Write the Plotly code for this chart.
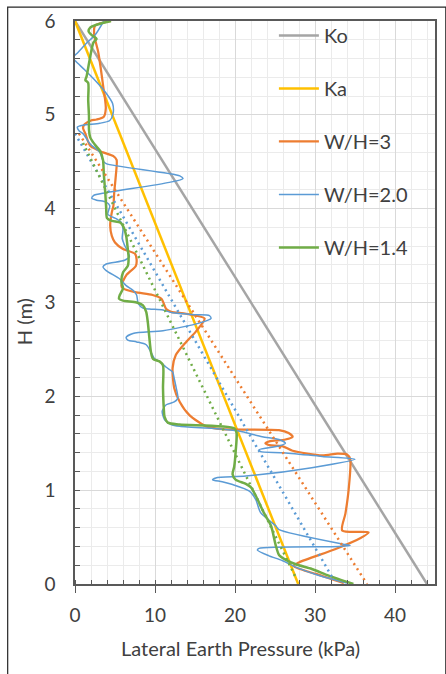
import plotly.graph_objects as go

# Reference earth-pressure lines (kPa vs depth H in m)
ko_x = [0.0, 44.0]
ko_h = [6.0, 0.0]
ka_x = [0.0, 27.9]
ka_h = [6.0, 0.0]

# Measured lateral earth pressure profiles
wh3_x = [4.5, 2.5, 2.4, 2.9, 3.5, 3.85, 3.6, 2.7, 2.0, 1.2, 1.0, 1.3, 1.9, 3.5, 4.8, 5.2, 5.1, 4.9,
         4.8, 4.6, 4.4, 4.6, 5.0, 6.0, 7.5, 7.7, 7.6, 6.4, 5.8, 6.0, 7.5, 9.7, 10.8, 11.4, 12.0,
         13.9, 16.2, 15.1, 13.9, 12.6, 12.2, 12.4, 13.1, 14.3, 16.4, 18.4, 25.5, 26.7, 27.2, 26.3,
         24.3, 23.8, 24.3, 25.9, 27.2, 30.9, 32.8, 34.0, 34.4, 34.2, 33.8, 33.4, 36.7, 35.7, 32.5,
         28.0, 27.3, 30.0, 33.6]
wh3_h = [6.0, 5.95, 5.85, 5.67, 5.32, 5.07, 4.98, 4.95, 4.94, 4.90, 4.86, 4.80, 4.67, 4.60, 4.56,
         4.52, 4.35, 4.17, 4.03, 3.96, 3.82, 3.71, 3.64, 3.57, 3.52, 3.46, 3.39, 3.29, 3.18, 3.15,
         3.11, 3.08, 3.04, 2.93, 2.90, 2.88, 2.83, 2.69, 2.58, 2.44, 2.30, 2.09, 1.94, 1.80, 1.68,
         1.65, 1.64, 1.61, 1.57, 1.54, 1.52, 1.50, 1.48, 1.47, 1.42, 1.37, 1.39, 1.38, 1.33, 1.00,
         0.75, 0.57, 0.55, 0.49, 0.37, 0.23, 0.19, 0.11, 0.01]

wh20_x = [3.6, 2.5, 1.4, 0.2, -0.3, 0.1, 1.2, 2.7, 3.9, 4.7, 4.75, 4.35, 3.1, 1.0, 0.3, 0.5, 1.0,
          1.9, 3.1, 3.5, 3.9, 13.1, 13.5, 11.8, 3.9, 2.3, 2.1, 2.7, 3.9, 4.35, 4.1, 5.2, 5.8, 6.0,
          5.9, 6.2, 6.8, 6.2, 3.9, 3.5, 3.9, 5.6, 6.4, 7.25, 7.7, 7.9, 8.5, 9.3, 11.0, 12.2, 15.1,
          16.8, 17.0, 15.5, 11.0, 7.25, 6.4, 6.6, 7.7, 8.9, 9.5, 9.95, 10.6, 11.4, 12.2, 12.4,
          12.65, 12.85, 12.4, 11.4, 10.9, 11.2, 12.0, 13.1, 18.4, 20.5, 23.4, 25.5, 26.3, 25.5,
          23.0, 23.2, 25.9, 30.9, 35.0, 29.6, 21.35, 17.6, 17.2, 18.4, 19.7, 21.8, 22.6, 23.2,
          25.1, 25.5, 33.8, 34.4, 33.0, 23.0, 22.8, 24.25, 25.9, 27.6, 30.5, 34.0]
wh20_h = [6.0, 5.85, 5.76, 5.65, 5.61, 5.57, 5.48, 5.35, 5.23, 5.12, 5.01, 4.94, 4.91, 4.89, 4.87,
          4.83, 4.80, 4.69, 4.60, 4.51, 4.48, 4.35, 4.32, 4.28, 4.17, 4.14, 4.11, 4.09, 4.07, 4.03,
          3.94, 3.89, 3.85, 3.78, 3.68, 3.61, 3.49, 3.45, 3.41, 3.38, 3.34, 3.25, 3.18, 3.13, 3.08,
          2.99, 2.94, 2.93, 2.92, 2.89, 2.87, 2.86, 2.83, 2.78, 2.70, 2.67, 2.63, 2.60, 2.58, 2.55,
          2.47, 2.40, 2.37, 2.31, 2.26, 2.19, 2.09, 1.98, 1.94, 1.91, 1.84, 1.75, 1.70, 1.68, 1.65,
          1.63, 1.57, 1.54, 1.50, 1.47, 1.43, 1.41, 1.40, 1.36, 1.33, 1.24, 1.15, 1.13, 1.11, 1.09,
          1.06, 0.99, 0.90, 0.76, 0.62, 0.58, 0.42, 0.41, 0.40, 0.38, 0.36, 0.30, 0.25, 0.18, 0.09,
          0.01]

wh14_x = [4.5, 2.7, 1.9, 1.7, 2.1, 2.7, 2.3, 1.9, 1.45, 1.3, 1.65, 1.65, 1.75, 1.75, 1.9, 2.5, 3.1,
          3.5, 3.6, 3.8, 3.9, 4.0, 4.6, 5.7, 6.1, 6.4, 6.6, 6.7, 6.6, 6.0, 5.8, 6.0, 5.6, 5.5, 6.0,
          7.7, 8.5, 8.9, 9.1, 9.3, 9.5, 9.75, 10.6, 11.0, 11.0, 11.1, 11.2, 11.6, 13.06, 19.9, 20.2,
          20.1, 19.9, 19.7, 20.1, 21.3, 22.0, 22.6, 23.6, 24.5, 25.1, 25.5, 26.3, 27.6, 29.6, 31.7,
          34.8]
wh14_h = [6.0, 5.96, 5.93, 5.89, 5.85, 5.81, 5.77, 5.62, 5.41, 5.37, 5.34, 5.16, 4.98, 4.84, 4.76,
          4.68, 4.62, 4.52, 4.37, 4.15, 4.0, 3.90, 3.87, 3.85, 3.80, 3.71, 3.57, 3.48, 3.39, 3.32,
          3.22, 3.15, 3.08, 3.04, 3.02, 3.0, 2.97, 2.90, 2.79, 2.62, 2.47, 2.40, 2.37, 2.33, 2.09,
          1.87, 1.78, 1.72, 1.70, 1.66, 1.61, 1.43, 1.25, 1.17, 1.11, 1.07, 1.03, 0.94, 0.76, 0.62,
          0.41, 0.31, 0.26, 0.21, 0.16, 0.09, 0.0]

# Linear trends of the three profiles
trend3_x = [0.5, 36.5]
trend3_h = [4.80, 0.0]
trend20_x = [0.0, 32.3]
trend20_h = [4.80, 0.05]
trend14_x = [1.0, 27.7]
trend14_h = [4.70, 0.05]

GRAY = "#A5A5A5"
YELLOW = "#FFC000"
ORANGE = "#ED7D31"
BLUE = "#5B9BD5"
GREEN = "#70AD47"
FONT = "Lato, sans-serif"
TEXT = "#404040"
AXIS = "#595959"

fig = go.Figure()

series = [
    ("Ko", ko_x, ko_h, GRAY, 2.5, "linear"),
    ("Ka", ka_x, ka_h, YELLOW, 2.5, "linear"),
    ("W/H=3", wh3_x, wh3_h, ORANGE, 2.25, "spline"),
    ("W/H=2.0", wh20_x, wh20_h, BLUE, 1.5, "spline"),
    ("W/H=1.4", wh14_x, wh14_h, GREEN, 2.5, "spline"),
]
for name, xs, hs, color, width, shape in series:
    line = dict(color=color, width=width, shape=shape)
    if shape == "spline":
        line["smoothing"] = 0.7
    fig.add_trace(go.Scatter(x=xs, y=hs, mode="lines", name=name, line=line,
                             legendgroup=name))

for xs, hs, color in [(trend3_x, trend3_h, ORANGE), (trend20_x, trend20_h, BLUE),
                      (trend14_x, trend14_h, GREEN)]:
    fig.add_trace(go.Scatter(x=xs, y=hs, mode="lines", showlegend=False,
                             line=dict(color=color, width=2.5, dash="2px,4px")))

fig.update_xaxes(
    range=[0, 45], tick0=0, dtick=10, ticks="outside", ticklen=7, tickcolor=AXIS,
    tickwidth=1.25, showline=True, linecolor=AXIS, linewidth=1.5, mirror=True,
    showgrid=True, gridcolor="#D9D9D9", gridwidth=1, zeroline=False,
    tickfont=dict(family=FONT, size=19, color=TEXT), ticklabelstandoff=6,
    minor=dict(dtick=2, ticks="inside", ticklen=4, tickcolor=AXIS, showgrid=True,
               gridcolor="#EBEBEB", gridwidth=1),
)
fig.update_yaxes(
    range=[0, 6], tick0=0, dtick=1, ticks="inside", ticklen=5, tickcolor=AXIS,
    tickwidth=1.25, showline=True, linecolor=AXIS, linewidth=1.5, mirror=True,
    showgrid=True, gridcolor="#D9D9D9", gridwidth=1, zeroline=False,
    tickfont=dict(family=FONT, size=19, color=TEXT), ticklabelstandoff=14,
    minor=dict(dtick=0.2, ticks="inside", ticklen=5, tickcolor=AXIS, showgrid=True,
               gridcolor="#EBEBEB", gridwidth=1),
)

# Chart frame
fig.add_shape(type="rect", xref="paper", yref="paper", x0=-0.187, x1=1.03, y0=-0.17, y1=1.0248,
              line=dict(color="#262626", width=1.2), layer="above")

fig.add_annotation(text="Lateral Earth Pressure (kPa)", xref="paper", yref="paper",
                   x=0.461, y=-0.113, showarrow=False, xanchor="center", yanchor="middle",
                   font=dict(family=FONT, size=20, color=TEXT))
fig.add_annotation(text="H (m)", xref="paper", yref="paper", x=-0.141, y=0.4655,
                   textangle=-90, showarrow=False, xanchor="center", yanchor="middle",
                   font=dict(family=FONT, size=20, color=TEXT))

fig.update_layout(
    width=446, height=674, autosize=False,
    margin=dict(l=75, r=9, t=19, b=90),
    paper_bgcolor="white", plot_bgcolor="white",
    showlegend=True,
    legend=dict(x=0.5525, y=1.009, xanchor="left", yanchor="top", bgcolor="rgba(0,0,0,0)",
                font=dict(family=FONT, size=20, color=TEXT), traceorder="grouped",
                tracegroupgap=24, itemwidth=40),
)

fig.write_html("out.html")
